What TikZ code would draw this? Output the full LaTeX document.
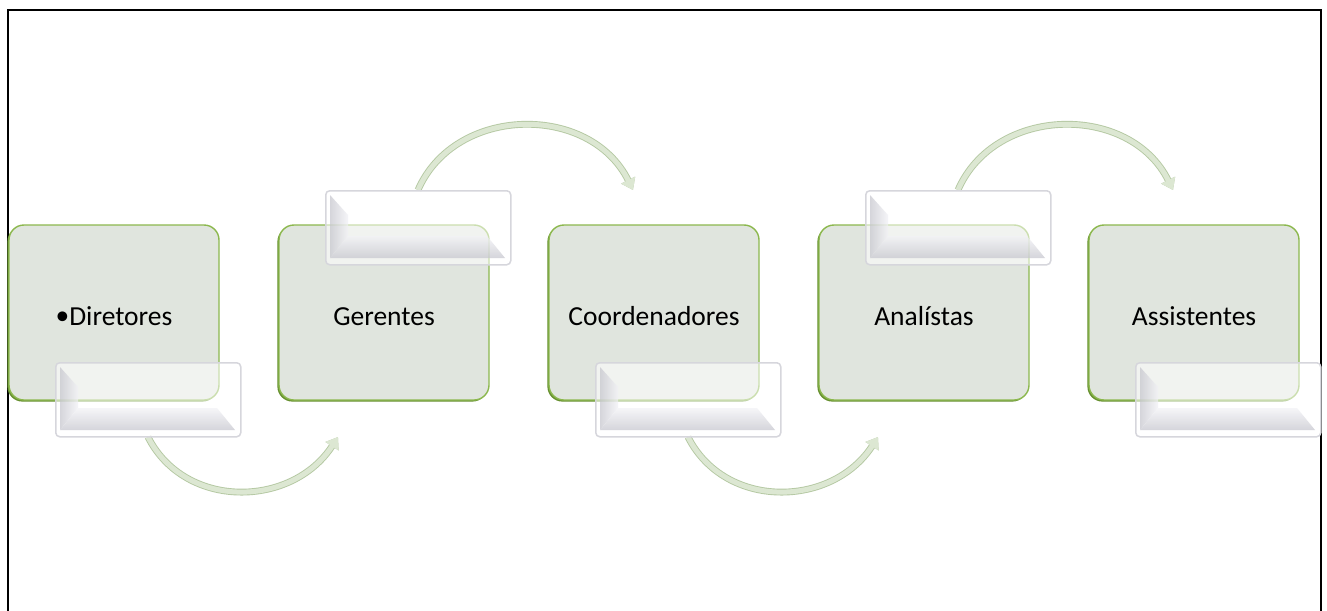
\documentclass[tikz,border=0pt]{standalone}
\usepackage{fontspec}
\setmainfont{Carlito}
\usetikzlibrary{arrows.meta}
\definecolor{boxfill}{HTML}{E0E5DE}
\definecolor{boxline}{HTML}{8CB84E}
\definecolor{boxshadow}{HTML}{66902F}
\definecolor{bevline}{HTML}{D6D6DC}
\definecolor{facedark}{HTML}{C4C4CC}
\definecolor{facelight}{HTML}{F2F2F6}
\definecolor{arrfill}{HTML}{DCE7D2}
\definecolor{arrline}{HTML}{B4C8A2}
\tikzset{
  mainbox/.style={draw=boxline, line width=1.4pt, fill=boxfill, rounded corners=15pt,
    minimum width=210pt, minimum height=175pt, inner sep=0pt,
    text height=26pt, text depth=0pt,
    font=\fontsize{27.5}{31}\selectfont, text=black,
    preaction={fill=boxshadow, transform canvas={shift={(-1.6pt,-1.6pt)}}}},
  bevelbox/.style={draw=bevline, line width=1.5pt, fill=white, fill opacity=0.55,
    rounded corners=4pt, minimum width=185pt, minimum height=74pt, inner sep=0pt},
  leftface/.style={left color=facedark, right color=facelight},
  bottomface/.style={top color=facelight, bottom color=facedark},
  flowarrow/.style={line width=5pt, draw=arrfill,
    -{Triangle[length=11pt,width=15pt]},
    preaction={draw=arrline, line width=6.8pt, -{Triangle[length=11pt,width=15pt]}}}
}
\newcommand\mybevel[3]{%
  \begin{scope}[shift={(#2,#3)}]
    \node[bevelbox,anchor=north west] (#1) at (0,0) {};
    \begin{scope}[transparency group, opacity=0.7]
      \shade[leftface] (5,5) -- (23,25) -- (23,46) -- (5,68) -- cycle;
      \shade[bottomface] (5,68) -- (23,46) -- (162,46) -- (180,68) -- cycle;
    \end{scope}
  \end{scope}}
\begin{document}
\begin{tikzpicture}[x=1pt,y=-1pt]
\useasboundingbox (0,0) rectangle (1327,610);
\fill[white] (0,0) rectangle (1327,610);
\draw[line width=2pt] (8,620) -- (8,10) -- (1321,10) -- (1321,620);

\node[mainbox] (n0) at (114,312.5) {\raisebox{0.1ex}{•}Diretores};
\node[mainbox] (n1) at (384,312.5) {Gerentes};
\node[mainbox] (n2) at (654,312.5) {Coordenadores};
\node[mainbox] (n3) at (924,312.5) {Analístas};
\node[mainbox] (n4) at (1194,312.5) {Assistentes};

\coordinate (s0) at (148,437);
\coordinate (e0) at (338,437);
\coordinate (s1) at (418,190);
\coordinate (e1) at (633,190);
\coordinate (s2) at (688,437);
\coordinate (e2) at (878,437);
\coordinate (s3) at (958,190);
\coordinate (e3) at (1173,190);

\draw[flowarrow] (s0) .. controls (185,510) and (292,508) .. (e0);
\draw[flowarrow] (s1) .. controls (455,105) and (590,103) .. (e1);
\draw[flowarrow] (s2) .. controls (725,510) and (832,508) .. (e2);
\draw[flowarrow] (s3) .. controls (995,105) and (1130,103) .. (e3);

\mybevel{b0}{55}{362}
\mybevel{b1}{325}{190}
\mybevel{b2}{595}{362}
\mybevel{b3}{865}{190}
\mybevel{b4}{1135}{362}
\end{tikzpicture}
\end{document}
